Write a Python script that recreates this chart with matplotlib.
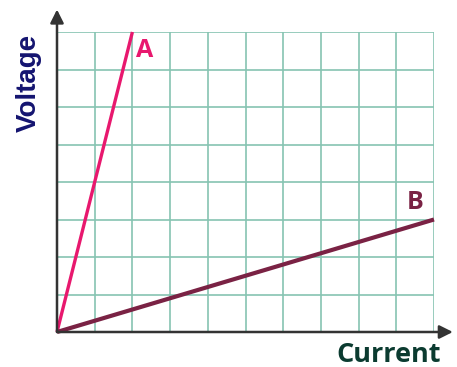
import matplotlib.pyplot as plt

# grid size (cells)
n_cols = 10
n_rows = 8

# lines through the origin: (current, voltage) end points
line_a_x = [0, 2]
line_a_y = [0, 8]
line_b_x = [0, 10]
line_b_y = [0, 3]

fig = plt.figure(figsize=(4.57, 3.67), dpi=100)
ax = fig.add_axes([57 / 457, 35 / 367, 377 / 457, 300 / 367])
ax.set_xlim(0, n_cols)
ax.set_ylim(0, n_rows)

ax.set_xticks(range(n_cols + 1))
ax.set_yticks(range(n_rows + 1))
ax.tick_params(length=0, labelbottom=False, labelleft=False)
ax.grid(True, color='#86c4b2', lw=1.2)
ax.set_axisbelow(True)
for s in ax.spines.values():
    s.set_visible(False)

ax.plot(line_a_x, line_a_y, color='#e8186e', lw=2.4, solid_capstyle='butt', clip_on=False)
ax.plot(line_b_x, line_b_y, color='#7a2244', lw=3.0, solid_capstyle='butt', clip_on=False)

ax.text(2.33, 7.5, 'A', color='#e8186e', fontsize=18, fontweight='bold',
        family='Open Sans', ha='center', va='center')
ax.text(9.5, 3.45, 'B', color='#7a2244', fontsize=18, fontweight='bold',
        family='Open Sans', ha='center', va='center')

# axes with arrow heads
arrow = dict(arrowstyle='-|>,head_length=0.8,head_width=0.4', color='#333333', lw=1.8,
             shrinkA=0, shrinkB=0)
ax.annotate('', xy=(0, 1.075), xytext=(0, 0), xycoords='axes fraction',
            arrowprops=arrow, annotation_clip=False)
ax.annotate('', xy=(1.05, 0), xytext=(0, 0), xycoords='axes fraction',
            arrowprops=arrow, annotation_clip=False)

fig.text(29 / 457, 1 - 83 / 367, 'Voltage', rotation=90, color='#141470', fontsize=20,
         fontweight='bold', family='Liberation Sans', ha='center', va='center')
fig.text(389 / 457, 1 - 355 / 367, 'Current', color='#0b3b30', fontsize=19.5,
         fontweight='bold', family='Open Sans', ha='center', va='center')

fig.savefig('out.png', dpi=100)
